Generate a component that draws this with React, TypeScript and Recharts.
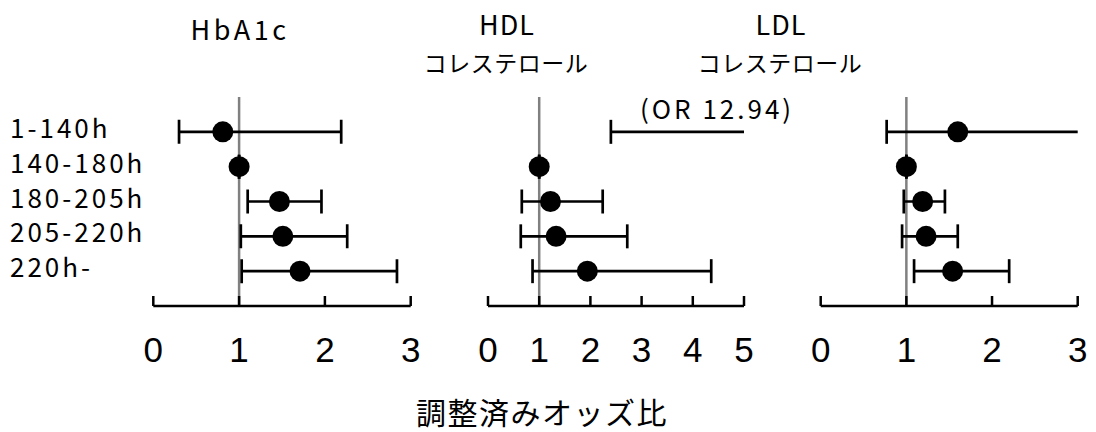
import React from 'react';
import { ScatterChart, Scatter, XAxis, YAxis, ErrorBar, ReferenceLine } from 'recharts';

const groups = ['1-140h', '140-180h', '180-205h', '205-220h', '220h-'];
const rows = [1, 2, 3, 4, 5];

const hba1cOR = [0.81, 1.0, 1.47, 1.51, 1.71];
const hba1cLo = [0.3, 1.0, 1.1, 1.02, 1.03];
const hba1cHi = [2.19, 1.0, 1.96, 2.26, 2.84];

const hdlOR = [12.94, 1.0, 1.22, 1.33, 1.94];
const hdlLo = [2.4, 1.0, 0.66, 0.64, 0.87];
const hdlHi = [60, 1.0, 2.24, 2.72, 4.36];

const ldlOR = [1.6, 1.0, 1.19, 1.23, 1.54];
const ldlLo = [0.77, 1.0, 0.97, 0.95, 1.09];
const ldlHi = [3.5, 1.0, 1.45, 1.6, 2.2];

const ticks3 = [0, 1, 2, 3];
const ticks5 = [0, 1, 2, 3, 4, 5];

const JP = '"Noto Sans CJK JP", "Noto Sans", sans-serif';
const NUM = '"Liberation Sans", Arial, sans-serif';

function build(or: number[], lo: number[], hi: number[]) {
  return rows.map((r, i) => ({
    row: r,
    or: or[i],
    err: [or[i] - lo[i], hi[i] - or[i]],
  }));
}

const Dot = (props: any) => <circle cx={props.cx} cy={props.cy} r={10.5} fill="#000" />;

const RowTick = (props: any) => {
  const { y, payload } = props;
  return (
    <text x={10} y={y + 6} fontSize={26} fontFamily={JP} letterSpacing={3} fill="#000">
      {groups[payload.value - 1]}
    </text>
  );
};

type PanelProps = {
  id: string;
  left: number;
  width: number;
  mLeft: number;
  mRight: number;
  max: number;
  ticks: number[];
  data: any[];
  labels?: boolean;
};

function Panel({ id, left, width, mLeft, mRight, max, ticks, data, labels }: PanelProps) {
  const yw = labels ? 153.3 : 0;
  const plotLeft = mLeft + yw;
  const plotRight = width - mRight;
  return (
    <div className={`pn-${id}`} style={{ position: 'absolute', left, top: 0 }}>
      <svg width={0} height={0} style={{ position: 'absolute' }}>
        <defs>
          <clipPath id={`clip-${id}`} clipPathUnits="userSpaceOnUse">
            <rect x={plotLeft - 40} y={0} width={plotRight - plotLeft + 40} height={432} />
          </clipPath>
        </defs>
      </svg>
      <style>{`.pn-${id} .recharts-errorBars, .pn-${id} .recharts-scatter-symbol { clip-path: url(#clip-${id}); }`}</style>
      <ScatterChart width={width} height={432} margin={{ top: 97, right: mRight, bottom: 66, left: mLeft }}>
        <XAxis
          type="number"
          dataKey="or"
          domain={[0, max]}
          allowDataOverflow
          ticks={ticks}
          interval={0}
          height={60}
          tickSize={-10}
          tickMargin={41}
          axisLine={{ stroke: '#000', strokeWidth: 2.5 }}
          tickLine={{ stroke: '#000', strokeWidth: 2.5 }}
          tick={{ fill: '#000', fontSize: 35, fontFamily: NUM }}
        />
        <YAxis
          type="number"
          dataKey="row"
          domain={[0, 6]}
          reversed
          ticks={rows}
          interval={0}
          hide={!labels}
          width={yw}
          axisLine={false}
          tickLine={false}
          tick={<RowTick />}
        />
        <ReferenceLine x={1} stroke="#808080" strokeWidth={2.5} ifOverflow="hidden" />
        <Scatter data={data} shape={<Dot />} isAnimationActive={false}>
          <ErrorBar dataKey="err" direction="x" width={12} stroke="#000" strokeWidth={2.7} isAnimationActive={false} />
        </Scatter>
      </ScatterChart>
    </div>
  );
}

export default function App() {
  return (
    <div style={{ position: 'absolute', left: 0, top: 0, width: 1096, height: 432, background: '#fff', overflow: 'hidden' }}>
      <Panel id="hba1c" left={0} width={430} mLeft={0} mRight={19.3} max={3} ticks={ticks3} data={build(hba1cOR, hba1cLo, hba1cHi)} labels />
      <Panel id="hdl" left={440} width={330} mLeft={48} mRight={26} max={5} ticks={ticks5} data={build(hdlOR, hdlLo, hdlHi)} />
      <Panel id="ldl" left={790} width={306} mLeft={30.7} mRight={18.3} max={3} ticks={ticks3} data={build(ldlOR, ldlLo, ldlHi)} />
      <svg width={1096} height={432} style={{ position: 'absolute', left: 0, top: 0, pointerEvents: 'none' }}>
        <text x={240} y={40} textAnchor="middle" fontSize={27} fontFamily={JP} letterSpacing={3.5} fill="#000">HbA1c</text>
        <text x={507} y={35} textAnchor="middle" fontSize={27} fontFamily={JP} letterSpacing={1} fill="#000">HDL</text>
        <text x={506} y={72} textAnchor="middle" fontSize={23} fontFamily={JP} letterSpacing={0.5} fill="#000">コレステロール</text>
        <text x={781} y={35} textAnchor="middle" fontSize={27} fontFamily={JP} letterSpacing={1} fill="#000">LDL</text>
        <text x={780} y={72} textAnchor="middle" fontSize={23} fontFamily={JP} letterSpacing={0.5} fill="#000">コレステロール</text>
        <text x={640} y={119} fontSize={26} fontFamily={JP} letterSpacing={3} fill="#000">(OR 12.94)</text>
        <text x={542} y={424} textAnchor="middle" fontSize={30} fontFamily={JP} letterSpacing={1.5} fill="#000">調整済みオッズ比</text>
      </svg>
    </div>
  );
}
